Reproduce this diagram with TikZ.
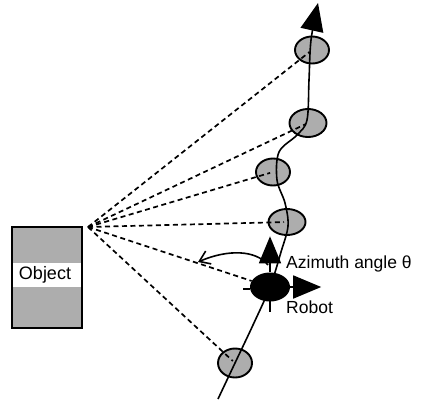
\documentclass[tikz,border=0pt]{standalone}
\usepackage{fontspec}
\setmainfont{Liberation Sans}
\usetikzlibrary{arrows.meta,shapes.geometric}
\begin{document}
\begin{tikzpicture}[x=1pt,y=-1pt,
  lbl/.style={font=\fontsize{17.5}{20}\selectfont, anchor=base west, inner sep=0pt},
  spot/.style={ellipse, draw, line width=1.9pt, fill=black!32,
               minimum width=34pt, minimum height=27pt, inner sep=0pt},
  ray/.style={line width=1.7pt, dash pattern=on 5pt off 3.5pt},
  track/.style={line width=1.6pt},
  heading/.style={line width=1.7pt, -{Triangle[length=27pt,width=22pt]}}]
\useasboundingbox (0,0) rectangle (422,399);

% the object, shaded with a light band behind its label
\fill[black!32] (12,227) rectangle (82,328);
\fill[white] (12,263) rectangle (82,287);
\node[draw, line width=1.8pt, minimum width=70pt, minimum height=101pt, inner sep=0pt] (obj) at (47,277.5) {};
\node[font=\fontsize{18}{20}\selectfont, inner sep=0pt] (objlabel) at (45,275) {Object};
\coordinate (apex) at (88,227);

% sampled positions along the path
\node[spot] (s1) at (312,50) {};
\node[spot, minimum width=37pt, minimum height=28pt] (s2) at (308,123) {};
\node[spot] (s3) at (273,172) {};
\node[spot, minimum width=37pt, minimum height=26pt] (s4) at (287,222) {};
\node[spot, minimum height=29pt] (s5) at (235,363) {};

% robot trajectory
\draw[track, -{Triangle[length=28pt,width=23pt]}] plot[smooth, tension=0.55] coordinates
  {(218,399) (235,363) (253,325) (270,287) (281,252) (288,226) (285,203) (277,180)
   (279,152) (297,135) (307,120) (309,80) (311,40) (318,3)};

% lines of sight from the object
\foreach \s in {s1,s2,s3,s4,s5}
  \draw[ray, shorten >=3pt] (apex) -- (\s.center);

% the robot with its heading axes
\node[ellipse, fill=black, minimum width=40pt, minimum height=29pt, inner sep=0pt] (robot) at (270,287) {};
\draw[ray] (apex) -- (robot);
\draw[heading] (robot.north) -- ++(0,-36);
\draw[heading, -{Triangle[length=28pt,width=23pt]}] (robot.east) -- ++(31,0);
\draw[track] ([yshift=-2pt]robot.west) -- ++(-7,0);
\draw[track] (270,300) -- (270,312);

% azimuth angle
\coordinate (azs) at (268,265);
\coordinate (aze) at (198,262);
\draw[track, -{Straight Barb[length=10pt,width=14pt]}] (azs) .. controls (256,250) and (228,249) .. (aze);

\node[lbl] (azlabel) at (286,268) {Azimuth angle θ};
\node[lbl] (robotlabel) at (286,313) {Robot};
\end{tikzpicture}
\end{document}
